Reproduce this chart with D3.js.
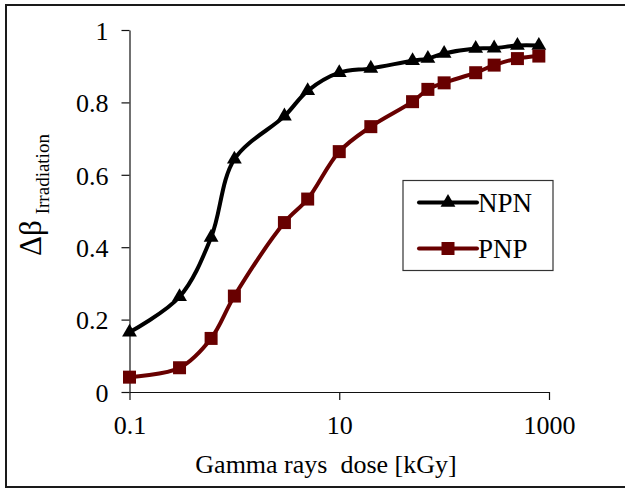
<!DOCTYPE html>
<html>
<head>
<meta charset="utf-8">
<script src="https://cdn.jsdelivr.net/npm/d3@7/dist/d3.min.js"></script>
<style>
  html, body { margin: 0; padding: 0; background: #fff; }
  svg { display: block; }
  text, tspan { font-family: "Times New Roman", "Liberation Serif", Times, "DejaVu Serif", serif !important; fill: #000; }
</style>
</head>
<body>
<svg id="chart" width="625" height="488"></svg>
<script>
// ---- data ----
const doses = [0.1, 0.3, 0.6, 1, 3, 5, 10, 20, 50, 70, 100, 200, 300, 500, 800];
const npnValues = [0.165, 0.263, 0.427, 0.643, 0.762, 0.832, 0.882, 0.894, 0.915, 0.921, 0.935, 0.949, 0.950, 0.957, 0.957];
const pnpValues = [0.041, 0.067, 0.148, 0.265, 0.468, 0.533, 0.664, 0.733, 0.802, 0.836, 0.854, 0.882, 0.903, 0.921, 0.928];
const seriesNames = ["NPN", "PNP"];
const xTickValues = [0.1, 10, 1000];
const xTickLabels = ["0.1", "10", "1000"];
const yTickValues = [0, 0.2, 0.4, 0.6, 0.8, 1];
const yTickLabels = ["0", "0.2", "0.4", "0.6", "0.8", "1"];
const xTitle = "Gamma rays  dose [kGy]";

const FONT = '"Times New Roman", "Liberation Serif", Times, serif';
const svg = d3.select("#chart");

// outer frame
svg.append("rect")
  .attr("x", 6).attr("y", 5).attr("width", 660).attr("height", 482)
  .attr("fill", "none").attr("stroke", "#1a1a1a").attr("stroke-width", 2);

const x = d3.scaleLog().domain([0.1, 1000]).range([129.5, 549]);
const y = d3.scaleLinear().domain([0, 1]).range([392, 30]);

// axes
const xAxis = d3.axisBottom(x)
  .tickValues(xTickValues)
  .tickFormat((d, i) => xTickLabels[i])
  .tickSize(8).tickSizeOuter(0).tickPadding(16);
const gx = svg.append("g").attr("transform", "translate(0,392)").call(xAxis);

const yAxis = d3.axisLeft(y)
  .tickValues(yTickValues)
  .tickFormat((d, i) => yTickLabels[i])
  .tickSize(8).tickSizeOuter(0).tickPadding(13);
const gy = svg.append("g").attr("transform", "translate(129.5,0)").call(yAxis);

[gx, gy].forEach(g => {
  g.attr("font-family", FONT).attr("font-size", 26);
  g.select(".domain").attr("stroke", "#111").attr("stroke-width", 1.2);
  g.selectAll(".tick line").attr("stroke", "#111").attr("stroke-width", 1.2);
  g.selectAll(".tick text").attr("fill", "#000");
});
gy.selectAll(".tick text").attr("dy", "0.36em");

// axis titles
svg.append("text")
  .attr("x", 326).attr("y", 473)
  .attr("text-anchor", "middle")
  .attr("font-size", 26)
  .attr("xml:space", "preserve")
  .style("white-space", "pre")
  .text(xTitle);

const yt = svg.append("text")
  .attr("transform", "translate(41,256) rotate(-90)")
  .attr("text-anchor", "start");
yt.append("tspan").attr("font-size", 31).text("Δβ");
yt.append("tspan").attr("dx", 6).attr("dy", 8).attr("font-size", 19).text("Irradiation");

// lines
const series = [
  { name: seriesNames[0], values: npnValues, color: "#000000", symbol: d3.symbolTriangle, size: 95 },
  { name: seriesNames[1], values: pnpValues, color: "#680000", symbol: d3.symbolSquare, size: 169 }
];

const line = d3.line()
  .x(d => x(d[0]))
  .y(d => y(d[1]))
  .curve(d3.curveCatmullRom.alpha(0.5));

series.forEach(s => {
  const pts = doses.map((d, i) => [d, s.values[i]]);
  svg.append("path")
    .datum(pts)
    .attr("d", line)
    .attr("fill", "none")
    .attr("stroke", s.color)
    .attr("stroke-width", 4)
    .attr("stroke-linejoin", "round");
  svg.append("g").selectAll("path")
    .data(pts)
    .join("path")
    .attr("transform", d => `translate(${x(d[0])},${y(d[1])})`)
    .attr("d", d3.symbol().type(s.symbol).size(s.size))
    .attr("fill", s.color);
});

// legend
const lg = svg.append("g");
lg.append("rect")
  .attr("x", 403).attr("y", 180.5).attr("width", 150).attr("height", 90)
  .attr("fill", "#fff").attr("stroke", "#333").attr("stroke-width", 1.2);
const legendRows = [202.5, 248.5];
series.forEach((s, i) => {
  const cy = legendRows[i];
  lg.append("line")
    .attr("x1", 419).attr("x2", 477).attr("y1", cy).attr("y2", cy)
    .attr("stroke", s.color).attr("stroke-width", 4).attr("stroke-linecap", "round");
  lg.append("path")
    .attr("transform", `translate(448,${cy})`)
    .attr("d", d3.symbol().type(s.symbol).size(s.size))
    .attr("fill", s.color);
  lg.append("text")
    .attr("x", 478).attr("y", cy + 9.5)
    .attr("font-size", 27)
    .text(s.name);
});
</script>
</body>
</html>
